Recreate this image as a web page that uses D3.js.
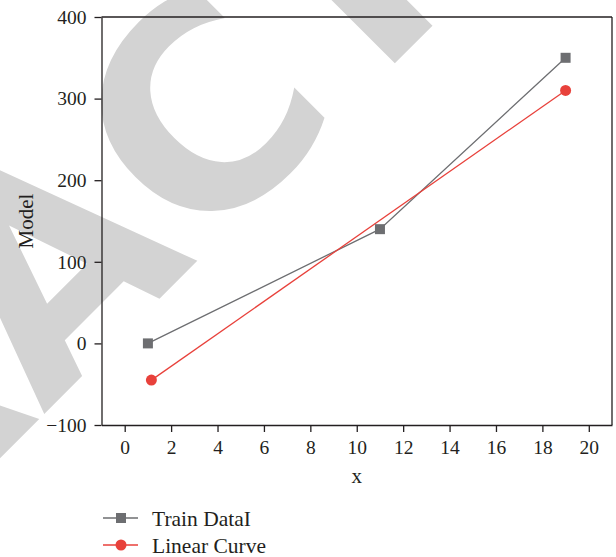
<!DOCTYPE html>
<html>
<head>
<meta charset="utf-8">
<script src="https://cdn.jsdelivr.net/npm/d3@7/dist/d3.min.js"></script>
<style>
  html, body { margin: 0; padding: 0; background: #fff; }
  svg { display: block; }
</style>
</head>
<body>
<svg id="chart" width="616" height="557"></svg>
<script>
// ---- data ----
const trainX = [1, 11, 19];
const trainY = [0, 140, 350];
const linearX = [1.15, 19];
const linearY = [-45, 310];
const xMajorTicks = [0, 2, 4, 6, 8, 10, 12, 14, 16, 18, 20];
const xMinorTicks = [-1, 1, 3, 5, 7, 9, 11, 13, 15, 17, 19, 21];
const yMajorTicks = [-100, 0, 100, 200, 300, 400];
const yMinorTicks = [-50, 50, 150, 250, 350];
const seriesNames = ["Train DataI", "Linear Curve"];
const xTitle = "x";
const yTitle = "Model";
const watermark = "RETRACTED";

// ---- drawing ----
(function () {
const pL = 101.5, pR = 612, pT = 17, pB = 425;
const ink = "#231f20";
const grayC = "#6d6e71";
const redC = "#e8413b";
const serif = "'Liberation Serif', 'DejaVu Serif', serif";

const svg = d3.select("#chart");
const x = d3.scaleLinear().domain([-1, 21]).range([pL, pR]);
const y = d3.scaleLinear().domain([-100, 400]).range([pB, pT]);

// watermark (light gray rotated text)
const wm = svg.append("text")
  .attr("font-family", "'DejaVu Sans', sans-serif")
  .attr("font-weight", "bold")
  .attr("font-size", 100)
  .attr("fill", "#d3d3d3")
  .attr("x", 0).attr("y", 0)
  .text(watermark);
{
  const node = wm.node();
  const sC = node.getStartPositionOfChar(5).x;
  const sT = node.getStartPositionOfChar(6).x;
  const wT = node.getSubStringLength(6, 1);
  const cLeft100 = sC + 5.5;
  const stem100 = sT + wT / 2;
  const k = 289 / (stem100 - cLeft100);
  const F = 100 * k;
  const x0 = 261 - stem100 * k;
  wm.attr("font-size", F)
    .attr("x", x0)
    .attr("y", 324)
    .attr("transform", "rotate(-45)");
}

// axes
const gx = svg.append("g").attr("transform", `translate(0,${pB})`);
gx.call(d3.axisBottom(x).tickValues(xMinorTicks).tickSize(4).tickSizeOuter(0).tickFormat(""));
gx.call(d3.axisBottom(x).tickValues(xMajorTicks).tickSize(7).tickSizeOuter(0).tickPadding(8).tickFormat(d3.format("d")));

const gy = svg.append("g").attr("transform", `translate(${pL},0)`);
gy.call(d3.axisLeft(y).tickValues(yMinorTicks).tickSize(4).tickSizeOuter(0).tickFormat(""));
gy.call(d3.axisLeft(y).tickValues(yMajorTicks).tickSize(7).tickSizeOuter(0).tickPadding(8)
  .tickFormat(d => d < 0 ? "\u2212" + Math.abs(d) : String(d)));

svg.selectAll(".tick line, .domain").attr("stroke", ink).attr("stroke-width", 1.3);
svg.selectAll(".tick text").attr("font-family", serif).attr("font-size", 19.5).attr("fill", ink);

// top & right frame
svg.append("line").attr("x1", x(-1)).attr("x2", x(21)).attr("y1", y(400)).attr("y2", y(400))
  .attr("stroke", ink).attr("stroke-width", 1.3);
svg.append("line").attr("x1", x(21)).attr("x2", x(21)).attr("y1", y(400)).attr("y2", y(-100))
  .attr("stroke", ink).attr("stroke-width", 1.3);

// titles
svg.append("text").attr("x", (pL + pR) / 2).attr("y", 483)
  .attr("text-anchor", "middle").attr("font-family", serif).attr("font-size", 21).attr("fill", ink)
  .text(xTitle);
svg.append("text").attr("transform", `translate(33,221) rotate(-90)`)
  .attr("text-anchor", "middle").attr("font-family", serif).attr("font-size", 21).attr("fill", ink)
  .text(yTitle);

// series
const train = trainX.map((v, i) => [v, trainY[i]]);
const lin = linearX.map((v, i) => [v, linearY[i]]);
const line = d3.line().x(d => x(d[0])).y(d => y(d[1]));

svg.append("path").datum(train).attr("d", line).attr("fill", "none")
  .attr("stroke", grayC).attr("stroke-width", 1.3);
svg.append("path").datum(lin).attr("d", line).attr("fill", "none")
  .attr("stroke", redC).attr("stroke-width", 1.3);

const sq = 10;
svg.selectAll(".sq").data(train).enter().append("rect")
  .attr("x", d => x(d[0]) - sq / 2).attr("y", d => y(d[1]) - sq / 2)
  .attr("width", sq).attr("height", sq).attr("fill", grayC);
svg.selectAll(".ci").data(lin).enter().append("circle")
  .attr("cx", d => x(d[0])).attr("cy", d => y(d[1])).attr("r", 5.5).attr("fill", redC);

// legend
const lg = svg.append("g");
const rows = [{ name: seriesNames[0], color: grayC, shape: "square", yy: 518 },
              { name: seriesNames[1], color: redC, shape: "circle", yy: 545 }];
rows.forEach(r => {
  lg.append("line").attr("x1", 103).attr("x2", 138).attr("y1", r.yy).attr("y2", r.yy)
    .attr("stroke", r.color).attr("stroke-width", 1.3);
  if (r.shape === "square") {
    lg.append("rect").attr("x", 121 - sq / 2).attr("y", r.yy - sq / 2).attr("width", sq).attr("height", sq).attr("fill", r.color);
  } else {
    lg.append("circle").attr("cx", 121).attr("cy", r.yy).attr("r", 5.5).attr("fill", r.color);
  }
  lg.append("text").attr("x", 152).attr("y", r.yy + 7.5).attr("font-family", serif).attr("font-size", 21.5)
    .attr("fill", ink).text(r.name);
});
})();
</script>
</body>
</html>
